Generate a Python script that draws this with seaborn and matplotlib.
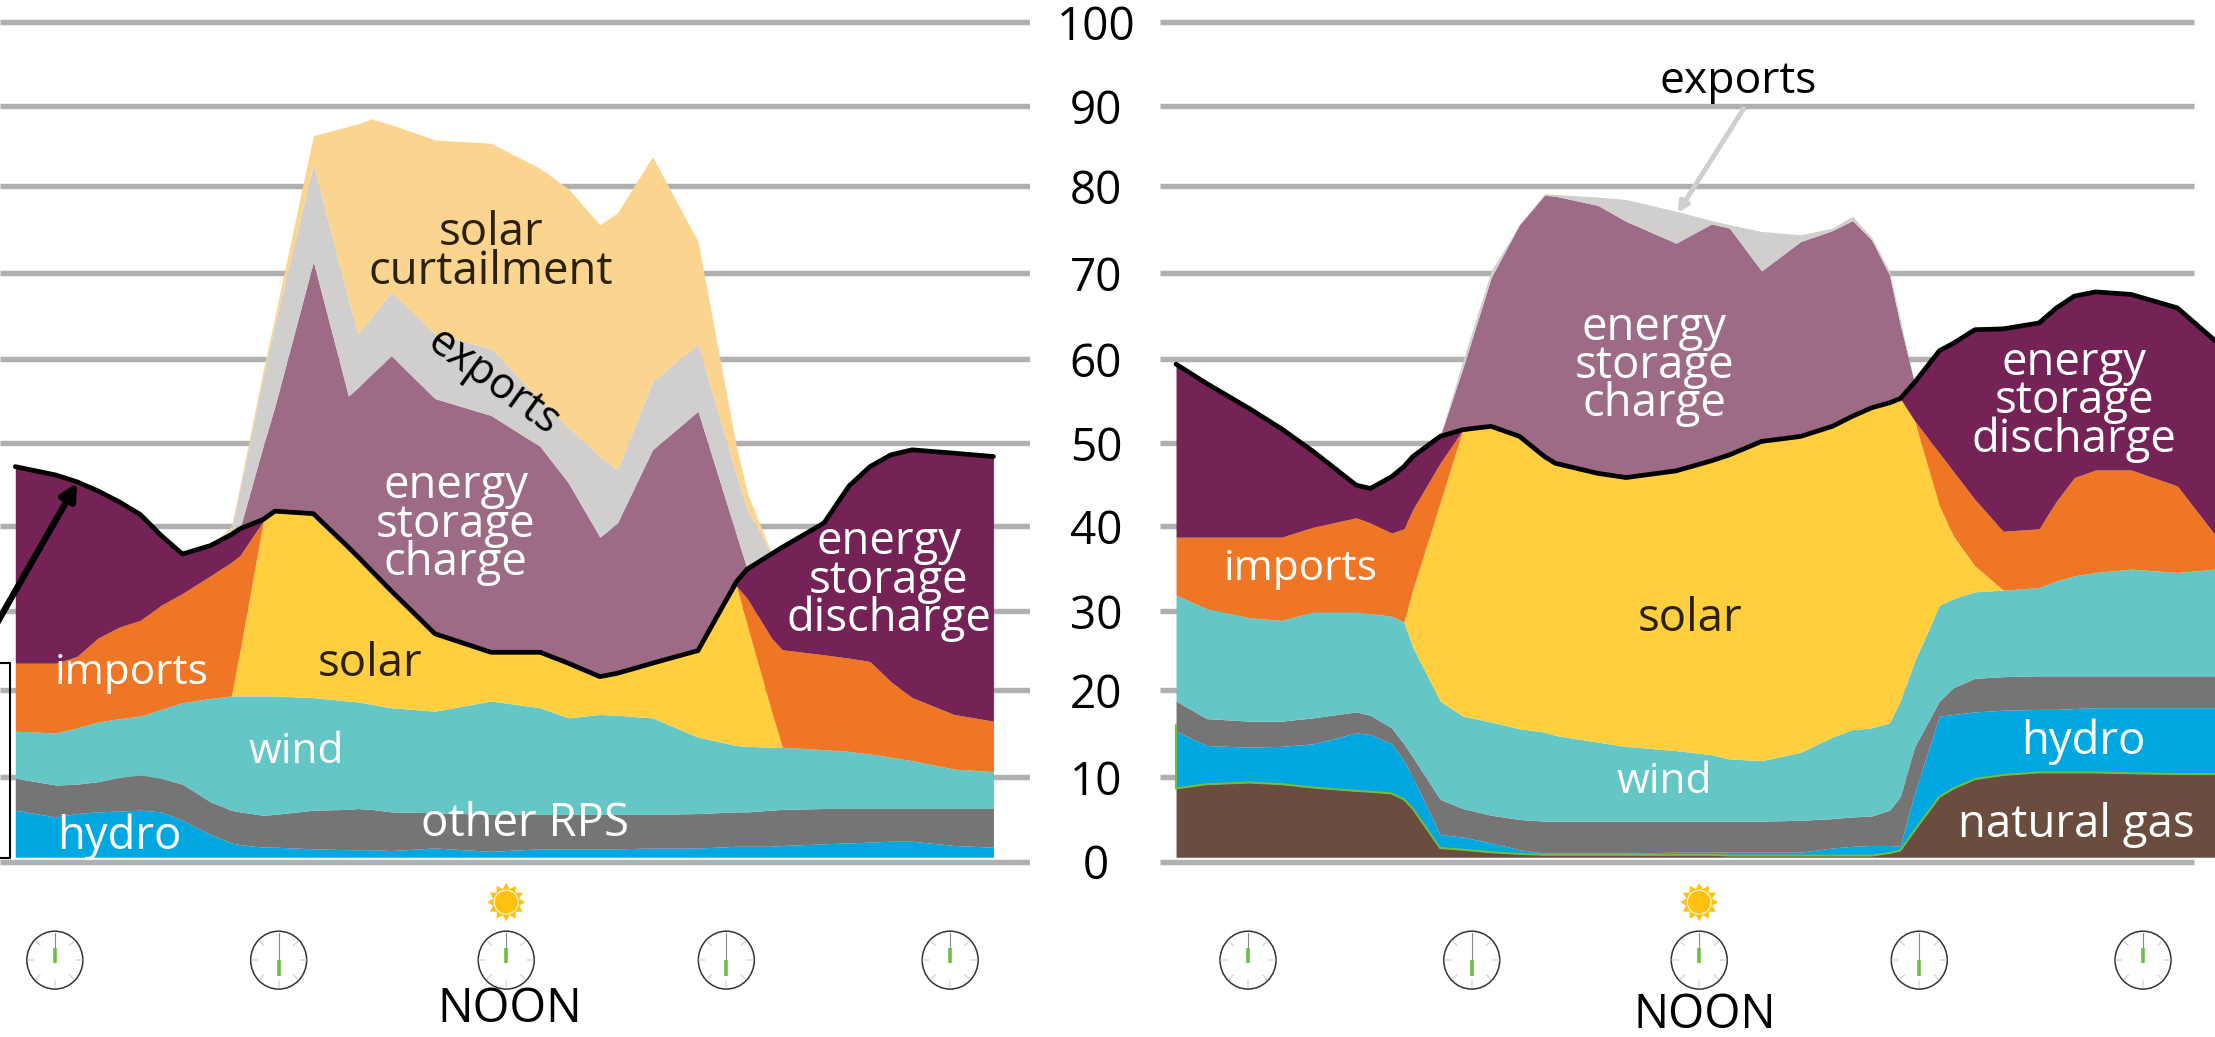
import numpy as np
import matplotlib.pyplot as plt
import seaborn as sns
from matplotlib.patches import Ellipse, Polygon

# hours from midnight, stacked tops of each layer (GW)
left_hours = [-1.06, 0.03, 0.59, 1.16, 1.73, 2.29, 2.85, 3.42, 4.17, 4.73, 4.96, 5.58, 5.90, 6.93, 7.87, 8.12, 8.49, 9.02, 10.19, 11.69,
              13.01, 13.76, 14.61, 15.08, 16.02, 17.24, 18.27, 18.56, 19.21, 19.50, 20.62, 21.29, 21.85, 22.41, 22.98, 24.10, 25.16]
left_hydro = [5.6, 4.8, 5.2, 5.4, 5.5, 5.6, 5.4, 4.4, 2.7, 1.7, 1.5, 1.2, 1.2, 1.0, 0.9, 0.9, 0.9, 0.8, 1.1, 0.7,
              1.0, 1.0, 1.0, 1.0, 1.1, 1.1, 1.3, 1.3, 1.3, 1.4, 1.6, 1.7, 1.8, 1.9, 1.9, 1.4, 1.2]
left_rps = [9.4, 8.6, 8.7, 9.0, 9.5, 9.8, 9.4, 8.7, 6.6, 5.6, 5.4, 5.0, 5.1, 5.6, 5.7, 5.8, 5.7, 5.4, 5.3, 5.1,
            5.1, 5.1, 5.1, 5.1, 5.1, 5.2, 5.4, 5.4, 5.6, 5.7, 5.8, 5.8, 5.8, 5.8, 5.8, 5.8, 5.8]
left_wind = [15.0, 14.8, 15.4, 16.1, 16.5, 16.8, 17.6, 18.4, 18.9, 19.2, 19.2, 19.2, 19.2, 19.0, 18.6, 18.5, 18.2, 17.8, 17.4, 18.6,
             17.8, 16.6, 17.0, 16.9, 16.6, 14.3, 13.3, 13.2, 13.1, 13.1, 12.8, 12.6, 12.3, 11.9, 11.5, 10.5, 10.2]
left_solar = [15.0, 14.8, 15.4, 16.1, 16.5, 16.8, 17.6, 18.4, 18.9, 19.2, 24.5, 39.8, 41.2, 40.9, 36.9, 35.8, 34.1, 31.7, 26.6, 24.4,
              24.4, 23.1, 21.5, 21.9, 23.1, 24.6, 32.3, 27.6, 17.4, 13.1, 12.8, 12.6, 12.3, 11.9, 11.5, 10.5, 10.2]
left_imports = [23.1, 23.1, 23.9, 26.1, 27.4, 28.2, 30.0, 31.4, 33.5, 35.1, 35.9, 40.0, 41.2, 40.9, 36.9, 35.8, 34.1, 31.7, 26.6, 24.4,
                24.4, 23.1, 21.5, 21.9, 23.1, 24.6, 32.3, 30.8, 26.1, 24.7, 24.1, 23.7, 23.3, 20.9, 19.0, 17.0, 16.2]
left_discharge = [46.5, 45.5, 44.7, 43.6, 42.3, 40.8, 38.3, 36.1, 37.1, 38.4, 39.1, 40.2, 41.2, 40.9, 36.9, 35.8, 34.1, 31.7, 26.6, 24.4,
                  24.4, 23.1, 21.5, 21.9, 23.1, 24.6, 32.8, 34.3, 36.1, 36.9, 39.8, 44.2, 46.5, 47.9, 48.5, 48.1, 47.7]
left_charge = [46.5, 45.5, 44.7, 43.6, 42.3, 40.8, 38.3, 36.1, 37.1, 38.4, 39.1, 48.9, 53.7, 70.9, 54.9, 55.9, 57.5, 59.7, 54.6, 52.6,
               48.9, 44.6, 38.1, 39.8, 48.5, 53.1, 38.4, 34.3, 36.1, 36.9, 39.8, 44.2, 46.5, 47.9, 48.5, 48.1, 47.7]
left_exports = [46.5, 45.5, 44.7, 43.6, 42.3, 40.8, 38.3, 36.1, 37.1, 39.1, 43.8, 57.2, 63.5, 82.5, 66.4, 62.3, 64.3, 67.3, 62.3, 60.6,
                54.4, 51.2, 47.7, 46.1, 56.6, 61.1, 45.5, 41.4, 36.1, 36.9, 39.8, 44.2, 46.5, 47.9, 48.5, 48.1, 47.7]
left_curtail = [46.5, 45.5, 44.7, 43.6, 42.3, 40.8, 38.3, 36.1, 37.1, 39.4, 44.2, 57.9, 64.4, 85.9, 87.0, 87.3, 87.9, 87.2, 85.4, 85.0,
                82.0, 79.6, 75.3, 76.7, 83.4, 73.3, 48.9, 43.4, 36.2, 36.9, 39.8, 44.2, 46.5, 47.9, 48.5, 48.1, 47.7]

right_hours = [-1.93, -1.11, 0.04, 0.90, 1.75, 2.90, 3.28, 3.85, 4.18, 4.42, 5.15, 5.76, 6.52, 7.28, 7.95, 8.24, 9.38,
               10.14, 11.48, 12.43, 12.91, 13.77, 14.82, 15.67, 16.21, 16.72, 17.20, 17.49, 17.87, 18.54, 18.92, 19.49, 20.25,
               21.21, 21.68, 22.16, 22.73, 23.68, 24.92, 25.93]
right_gas = [8.2, 8.7, 8.9, 8.7, 8.3, 7.9, 7.8, 7.6, 6.9, 5.8, 1.1, 0.9, 0.6, 0.4, 0.3, 0.3, 0.3,
             0.3, 0.3, 0.3, 0.2, 0.2, 0.2, 0.2, 0.2, 0.2, 0.5, 0.8, 3.2, 7.2, 8.2, 9.3, 9.8,
             10.1, 10.1, 10.1, 10.1, 10.0, 9.9, 9.9]
right_hydro = [15.0, 13.3, 13.1, 13.2, 13.5, 14.8, 14.6, 13.5, 11.5, 9.5, 2.7, 2.4, 1.7, 0.9, 0.5, 0.5, 0.5,
               0.5, 0.6, 0.6, 0.6, 0.6, 0.6, 1.1, 1.3, 1.4, 1.4, 1.3, 7.6, 16.8, 17.0, 17.3, 17.5,
               17.6, 17.6, 17.7, 17.8, 17.8, 17.8, 17.8]
right_rps = [18.6, 16.5, 16.2, 16.2, 16.6, 17.3, 16.9, 15.4, 13.5, 11.9, 6.9, 5.8, 5.0, 4.5, 4.3, 4.3, 4.3,
             4.3, 4.3, 4.3, 4.3, 4.3, 4.4, 4.6, 4.8, 4.9, 5.6, 7.2, 13.1, 18.6, 20.2, 21.3, 21.5,
             21.6, 21.6, 21.6, 21.6, 21.6, 21.6, 21.6]
right_wind = [31.2, 29.6, 28.5, 28.2, 29.2, 29.2, 29.0, 28.7, 28.0, 25.0, 18.6, 16.8, 16.1, 15.3, 14.9, 14.5, 13.7,
              13.2, 12.7, 12.2, 11.7, 11.5, 12.5, 14.3, 15.2, 15.4, 16.0, 18.6, 23.3, 30.0, 30.8, 31.6, 31.8,
              32.1, 32.9, 33.5, 33.9, 34.3, 33.9, 34.3]
right_solar = [31.2, 29.6, 28.5, 28.2, 29.2, 29.2, 29.0, 28.7, 28.0, 31.9, 42.2, 50.9, 51.3, 50.1, 47.7, 46.9, 45.7,
               45.2, 46.0, 47.2, 47.9, 49.5, 50.1, 51.3, 52.5, 53.5, 54.1, 54.6, 52.0, 41.8, 38.2, 34.7, 31.8,
               32.1, 32.9, 33.5, 33.9, 34.3, 33.9, 34.3]
right_imports = [38.1, 38.1, 38.1, 38.1, 39.3, 40.4, 39.8, 38.6, 39.1, 41.4, 46.9, 50.9, 51.3, 50.1, 47.7, 46.9, 45.7,
                 45.2, 46.0, 47.2, 47.9, 49.5, 50.1, 51.3, 52.5, 53.5, 54.1, 54.6, 52.0, 48.1, 45.9, 42.6, 38.8,
                 39.1, 42.4, 45.2, 46.1, 46.1, 44.2, 38.4]
right_discharge = [58.7, 56.4, 53.4, 51.0, 48.3, 44.3, 43.9, 45.3, 46.5, 47.7, 50.1, 50.9, 51.3, 50.1, 47.7, 46.9, 45.7,
                   45.2, 46.0, 47.2, 47.9, 49.5, 50.1, 51.3, 52.5, 53.5, 54.1, 54.6, 56.5, 60.3, 61.2, 62.8, 62.9,
                   63.6, 65.4, 66.8, 67.3, 67.0, 65.4, 61.5]
right_charge = [58.7, 56.4, 53.4, 51.0, 48.3, 44.3, 43.9, 45.3, 46.5, 47.7, 50.1, 58.2, 69.0, 75.3, 78.8, 78.7, 77.6,
                75.7, 73.1, 75.4, 74.9, 69.8, 73.3, 74.6, 75.8, 73.5, 69.3, 63.4, 56.5, 60.3, 61.2, 62.8, 62.9,
                63.6, 65.4, 66.8, 67.3, 67.0, 65.4, 61.5]
right_exports = [58.7, 56.4, 53.4, 51.0, 48.3, 44.3, 43.9, 45.3, 46.5, 47.7, 50.1, 59.1, 69.8, 75.3, 79.0, 78.9, 78.6,
                 78.3, 76.9, 75.8, 75.3, 74.5, 74.1, 74.9, 76.3, 73.8, 69.8, 64.0, 56.5, 60.3, 61.2, 62.8, 62.9,
                 63.6, 65.4, 66.8, 67.3, 67.0, 65.4, 61.5]

# gridlines are not evenly spaced in the picture
grid_values = [-0.55, 9.53, 19.9, 29.3, 39.4, 49.3, 59.3, 69.5, 79.9, 89.4, 99.4]
tick_labels = ['0', '10', '20', '30', '40', '50', '60', '70', '80', '90', '100']
clock_hours = [0, 6, 12.1, 18, 24]
clock_hand_down = [False, True, False, True, False]

colors = {'gas': '#6B4D40', 'hydro': '#00A7E1', 'rps': '#757575', 'wind': '#65C6C6', 'solar': '#FFCF40',
          'imports': '#EE7625', 'discharge': '#752256', 'charge': '#9D6B85', 'exports': '#D0CFCD',
          'curtail': '#FBD490'}

W, H = 2215, 1037
PX_X = 37.3   # pixels per hour
PX_Y = 8.41   # pixels per GW
YMIN, YMAX = -21.4, 102.05

sns.set_theme(style='white')
plt.rcParams['font.family'] = ['Open Sans', 'DejaVu Sans']

fig = plt.figure(figsize=(W / 100, H / 100), dpi=100)
ax_l = fig.add_axes([0, 0, 1030 / W, 1])
ax_r = fig.add_axes([1160 / W, 0, 1055 / W, 1])


def stack(ax, hours, tops, names):
    bands = np.diff(np.array(tops), axis=0, prepend=0)
    ax.stackplot(hours, bands, colors=[colors[n] for n in names], linewidth=0, zorder=2)


def draw_clock(ax, h, down):
    v = -12.25
    ax.add_patch(Ellipse((h, v), 2 * 28 / PX_X, 2 * 29 / PX_Y, fc='white', ec='#333333', lw=1.1, zorder=3))
    for a in np.radians([45, 90, 135, 180, 225, 270, 315]):
        x0, x1 = np.sin(a) * 21 / PX_X, np.sin(a) * 27 / PX_X
        y0, y1 = np.cos(a) * 21 / PX_Y, np.cos(a) * 27 / PX_Y
        ax.plot([h + x0, h + x1], [v + y0, v + y1], color='#D8D8D8', lw=1.1, zorder=4)
    if down:
        ax.plot([h, h], [v, v + 27 / PX_Y], color='#888888', lw=0.8, zorder=4)
        ax.plot([h, h], [v, v - 16 / PX_Y], color='#6DBE45', lw=2.6, solid_capstyle='butt', zorder=5)
    else:
        ax.plot([h, h], [v + 12 / PX_Y, v + 27 / PX_Y], color='#888888', lw=0.8, zorder=4)
        ax.plot([h, h], [v - 3 / PX_Y, v + 12 / PX_Y], color='#6DBE45', lw=2.6, solid_capstyle='butt', zorder=5)


def draw_sun(ax, h):
    v = -5.35
    ang = np.radians(np.arange(0, 360, 15))
    rad = np.where(np.arange(24) % 2 == 0, 19, 13.5)
    pts = np.column_stack([h + np.sin(ang) * rad / PX_X, v + np.cos(ang) * rad / PX_Y])
    ax.add_patch(Polygon(pts, fc='#FFC010', ec='none', zorder=3))
    ax.add_patch(Ellipse((h, v), 2 * 12 / PX_X, 2 * 12 / PX_Y, fc='#FFC010', ec='#FFF3C8', lw=1, zorder=4))


def label(ax, h, v, text, color='white', size=32.8, **kw):
    ax.text(h, v, text, color=color, fontsize=size, ha='center', va='center', linespacing=0.78, zorder=8, **kw)


def finish(ax, xlim, grid_end):
    ax.set_xlim(*xlim)
    ax.set_ylim(YMIN, YMAX)
    ax.hlines(grid_values, 0, grid_end, transform=ax.get_yaxis_transform(), color='#B0B0B0', lw=3.9, zorder=1)
    ax.set_xticks([])
    sns.despine(ax=ax, left=True, bottom=True)
    ax.patch.set_alpha(0)
    for h, down in zip(clock_hours, clock_hand_down):
        draw_clock(ax, h, down)
    draw_sun(ax, clock_hours[2])


# left panel
stack(ax_l, left_hours,
      [left_hydro, left_rps, left_wind, left_solar, left_imports, left_discharge, left_charge, left_exports, left_curtail],
      ['hydro', 'rps', 'wind', 'solar', 'imports', 'discharge', 'charge', 'exports', 'curtail'])
sns.lineplot(x=left_hours, y=left_discharge, ax=ax_l, color='black', lw=3.4, estimator=None, sort=False, zorder=6)
finish(ax_l, (-1.47, 26.14), 1.0)
ax_l.set_yticks([])
ax_l.plot([-1.6, -1.19, -1.19, -1.6], [23.1, 23.1, -0.1, -0.1], color='black', lw=1.5, zorder=6)
ax_l.annotate('', xy=(0.6, 44.6), xytext=(-1.6, 27.5), zorder=7,
              arrowprops=dict(arrowstyle='-|>,head_width=0.4,head_length=0.8', color='black', lw=4.6, shrinkA=0, shrinkB=0))

label(ax_l, 11.69, 72.0, 'solar\ncurtailment', color='#2B2100')
label(ax_l, 11.75, 56.5, 'exports', color='black', size=31, rotation=-36, rotation_mode='anchor')
label(ax_l, 10.75, 39.6, 'energy\nstorage\ncharge')
label(ax_l, 8.44, 23.0, 'solar', color='#2B2100')
label(ax_l, 2.06, 21.9, 'imports', size=30.5)
label(ax_l, 6.46, 12.5, 'wind', size=30.5)
label(ax_l, 1.72, 2.4, 'hydro')
label(ax_l, 12.6, 4.0, 'other RPS')
label(ax_l, 22.35, 32.9, 'energy\nstorage\ndischarge')
ax_l.text(12.2, -18.1, 'NOON', color='black', fontsize=34, ha='center', va='center')

# right panel
stack(ax_r, right_hours,
      [right_gas, right_hydro, right_rps, right_wind, right_solar, right_imports, right_discharge, right_charge, right_exports],
      ['gas', 'hydro', 'rps', 'wind', 'solar', 'imports', 'discharge', 'charge', 'exports'])
sns.lineplot(x=right_hours, y=right_discharge, ax=ax_r, color='black', lw=3.4, estimator=None, sort=False, zorder=6)
sns.lineplot(x=right_hours, y=right_gas, ax=ax_r, color='#6DBE45', lw=1.5, estimator=None, sort=False, zorder=5)
ax_r.plot([right_hours[0], right_hours[0]], [right_gas[0], 15.8], color='#6DBE45', lw=1.5, zorder=5)
finish(ax_r, (-2.36, 25.93), (2194 - 1160) / 1055)
ax_r.set_yticks(grid_values)
ax_r.set_yticklabels(tick_labels, fontsize=33, color='black')
ax_r.tick_params(axis='y', length=0, pad=46)
for t in ax_r.get_yticklabels():
    t.set_ha('center')
ax_r.annotate('', xy=(11.52, 76.7), xytext=(13.29, 89.1), zorder=7,
              arrowprops=dict(arrowstyle='-|>,head_width=0.25,head_length=0.5', color='#D0CFCD', lw=3.5, shrinkA=0, shrinkB=0))

label(ax_r, 13.14, 92.3, 'exports', color='black', size=32)
label(ax_r, 10.89, 58.5, 'energy\nstorage\ncharge')
label(ax_r, 22.16, 54.3, 'energy\nstorage\ndischarge')
label(ax_r, 1.41, 34.3, 'imports', size=30.5)
label(ax_r, 11.84, 28.4, 'solar', color='#2B2100')
label(ax_r, 11.16, 9.0, 'wind', size=30.5)
label(ax_r, 22.41, 13.7, 'hydro')
label(ax_r, 22.2, 3.8, 'natural gas')
ax_r.text(12.24, -18.85, 'NOON', color='black', fontsize=33.5, ha='center', va='center')

fig.savefig('out.png', dpi=100)
